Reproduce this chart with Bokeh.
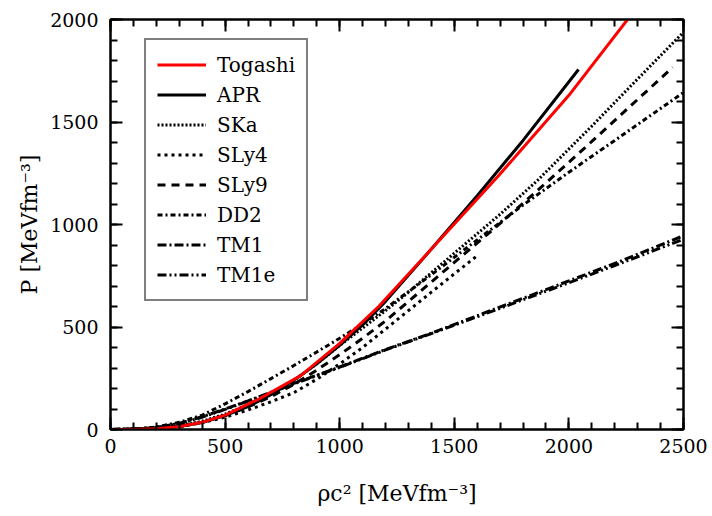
from bokeh.plotting import figure
from bokeh.models import (Range1d, LinearAxis, SingleIntervalTicker, Legend,
                          LegendItem)
from bokeh.embed import file_html
from bokeh.resources import INLINE

# ---------------- data ----------------
rho_togashi = [0, 100, 200, 300, 400, 500, 650, 830, 1000, 1170, 1400, 1690, 2000, 2260]
p_togashi = [0, 0.5, 4, 14, 35, 70, 150, 263, 420, 600, 880, 1234, 1630, 2006]

rho_apr = [0, 100, 200, 300, 400, 500, 600, 700, 800, 900, 1000, 1100, 1200, 1400, 1600, 1800, 2042]
p_apr = [0, 0.5, 4, 14, 34, 68, 112, 170, 240, 320, 410, 510, 625, 880, 1140, 1410, 1756]

rho_ska = [0, 200, 300, 400, 500, 600, 700, 800, 900, 1000, 1100, 1200, 1300, 1500, 1700, 1863, 2100, 2300, 2500]
p_ska = [0, 5, 17, 40, 75, 120, 175, 240, 320, 410, 495, 580, 670, 860, 1050, 1215, 1480, 1710, 1938]

rho_sly4 = [0, 200, 300, 400, 500, 600, 700, 800, 900, 1000, 1100, 1200, 1400, 1601]
p_sly4 = [0, 4, 14, 33, 60, 95, 135, 180, 245, 320, 400, 490, 670, 849]

rho_sly9 = [0, 200, 300, 400, 500, 600, 700, 800, 900, 1000, 1100, 1200, 1353, 1500, 1700, 1907, 2100, 2300, 2452]
p_sly9 = [0, 4, 15, 36, 68, 110, 160, 220, 290, 365, 445, 530, 675, 815, 1005, 1210, 1405, 1610, 1766]

rho_dd2 = [0, 100, 200, 300, 400, 500, 600, 700, 800, 900, 1000, 1100, 1200, 1400, 1600, 1800, 2000, 2200, 2500]
p_dd2 = [0, 2, 12, 35, 70, 125, 185, 248, 312, 378, 445, 515, 590, 755, 925, 1095, 1255, 1410, 1644]

rho_tm1 = [0, 100, 200, 300, 400, 500, 600, 700, 800, 900, 1000, 1200, 1400, 1600, 1800, 2000, 2200, 2500]
p_tm1 = [0, 2, 10, 30, 62, 100, 140, 182, 225, 265, 305, 390, 470, 555, 640, 725, 810, 945]

rho_tm1e = [0, 100, 200, 300, 400, 500, 600, 700, 800, 900, 1000, 1200, 1400, 1600, 1800, 2000, 2200, 2500]
p_tm1e = [0, 2, 10, 28, 60, 98, 138, 180, 222, 263, 303, 388, 468, 550, 633, 716, 800, 928]

x_ticks_interval = 500
y_ticks_interval = 500
x_title = "ρc² [MeVfm⁻³]"
y_title = "P [MeVfm⁻³]"

FONT = "DejaVu Serif"

# ---------------- figure ----------------
p = figure(width=712, height=516, output_backend="svg", toolbar_location=None,
           x_range=Range1d(0, 2500), y_range=Range1d(0, 2000),
           min_border_left=110, min_border_right=29, min_border_top=19,
           min_border_bottom=87)
p.xgrid.visible = False
p.ygrid.visible = False
p.outline_line_color = "black"
p.outline_line_width = 2
p.background_fill_color = "white"
p.border_fill_color = "white"

bottom_ax = p.below[0]
left_ax = p.left[0]


def style_axis(ax, interval, show_labels, standoff):
    ax.ticker = SingleIntervalTicker(interval=interval, num_minor_ticks=5)
    ax.axis_line_color = "black"
    ax.axis_line_width = 2
    ax.major_tick_in = 12
    ax.major_tick_out = 0
    ax.minor_tick_in = 7
    ax.minor_tick_out = 0
    ax.major_tick_line_width = 2
    ax.minor_tick_line_width = 2
    ax.major_tick_line_color = "black"
    ax.minor_tick_line_color = "black"
    if show_labels:
        ax.major_label_text_font = FONT
        ax.major_label_text_font_size = "19px"
        ax.major_label_text_color = "black"
        ax.major_label_standoff = standoff
    else:
        ax.major_label_text_font_size = "0px"
        ax.major_label_text_color = None
        ax.major_label_standoff = 0


style_axis(bottom_ax, x_ticks_interval, True, 9)
style_axis(left_ax, y_ticks_interval, True, 12)
top_ax = LinearAxis()
right_ax = LinearAxis()
style_axis(top_ax, x_ticks_interval, False, 0)
style_axis(right_ax, y_ticks_interval, False, 0)
p.add_layout(top_ax, "above")
p.add_layout(right_ax, "right")

bottom_ax.axis_label = x_title
bottom_ax.axis_label_text_font = FONT
bottom_ax.axis_label_text_font_size = "22px"
bottom_ax.axis_label_text_font_style = "normal"
bottom_ax.axis_label_text_color = "black"
bottom_ax.axis_label_standoff = 25

left_ax.axis_label = y_title
left_ax.axis_label_text_font = FONT
left_ax.axis_label_text_font_size = "22px"
left_ax.axis_label_text_font_style = "normal"
left_ax.axis_label_text_color = "black"
left_ax.axis_label_standoff = 5

# ---------------- curves ----------------
r_tm1e = p.line(rho_tm1e, p_tm1e, line_color="black", line_width=3, line_dash="9 3 2 3 2 3")
r_tm1 = p.line(rho_tm1, p_tm1, line_color="black", line_width=3, line_dash="9 3 2 3")
r_dd2 = p.line(rho_dd2, p_dd2, line_color="black", line_width=3, line_dash="5 3 2 3")
r_sly9 = p.line(rho_sly9, p_sly9, line_color="black", line_width=3, line_dash="8 6")
r_sly4 = p.line(rho_sly4, p_sly4, line_color="black", line_width=3, line_dash="3 4")
r_ska = p.line(rho_ska, p_ska, line_color="black", line_width=3, line_dash="2 2")
r_apr = p.line(rho_apr, p_apr, line_color="black", line_width=3)
r_tog = p.line(rho_togashi, p_togashi, line_color="#ff0000", line_width=3)

legend = Legend(items=[
    LegendItem(label="Togashi", renderers=[r_tog]),
    LegendItem(label="APR", renderers=[r_apr]),
    LegendItem(label="SKa", renderers=[r_ska]),
    LegendItem(label="SLy4", renderers=[r_sly4]),
    LegendItem(label="SLy9", renderers=[r_sly9]),
    LegendItem(label="DD2", renderers=[r_dd2]),
    LegendItem(label="TM1", renderers=[r_tm1]),
    LegendItem(label="TM1e", renderers=[r_tm1e]),
], location=(34, 128))
legend.border_line_color = "black"
legend.border_line_width = 2
legend.background_fill_color = "white"
legend.background_fill_alpha = 1
legend.label_text_font = FONT
legend.label_text_font_size = "20px"
legend.label_text_color = "black"
legend.glyph_width = 49
legend.glyph_height = 27
legend.label_height = 27
legend.spacing = 3
legend.padding = 11
legend.margin = 0
legend.label_standoff = 11
p.add_layout(legend)

open("out.html", "w").write(file_html(p, INLINE))
